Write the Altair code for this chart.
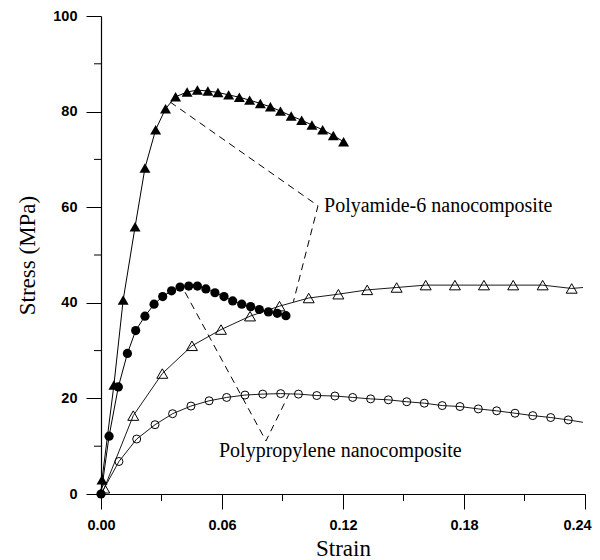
import altair as alt
import pandas as pd

# ---------------- data ----------------
# filled triangles
ft_x = [0.0005, 0.0064, 0.0110, 0.0169, 0.0218, 0.0271, 0.0320, 0.0370, 0.0427, 0.0478,
        0.0530, 0.0580, 0.0633, 0.0686, 0.0737, 0.0790, 0.0840, 0.0890, 0.0943, 0.0995,
        0.1046, 0.1099, 0.1152, 0.1203]
ft_y = [3.0, 22.8, 40.6, 55.9, 68.2, 76.2, 80.6, 83.1, 84.1, 84.5,
        84.3, 84.0, 83.5, 83.0, 82.4, 81.7, 81.0, 80.1, 79.1, 78.2,
        77.2, 76.2, 75.0, 73.7]

# filled circles
fc_x = [0.0, 0.0040, 0.0086, 0.0131, 0.0172, 0.0218, 0.0263, 0.0306, 0.0350, 0.0392,
        0.0435, 0.0478, 0.0520, 0.0565, 0.0610, 0.0653, 0.0698, 0.0742, 0.0785, 0.0830,
        0.0874, 0.0917]
fc_y = [0.0, 12.1, 22.4, 29.4, 34.2, 37.2, 39.7, 41.3, 42.5, 43.3,
        43.5, 43.5, 42.9, 42.1, 41.3, 40.4, 39.7, 39.2, 38.6, 38.1,
        37.8, 37.3]

# open triangles (markers) and their continuous curve end points
ot_x = [0.0016, 0.0160, 0.0304, 0.0451, 0.0595, 0.0739, 0.0885, 0.1030, 0.1177, 0.1320,
        0.1466, 0.1610, 0.1755, 0.1899, 0.2044, 0.2190, 0.2334]
ot_y = [1.2, 16.4, 25.2, 31.0, 34.4, 37.2, 39.3, 41.0, 41.8, 42.7,
        43.2, 43.7, 43.7, 43.7, 43.7, 43.7, 43.0]
ot_start = (0.0, 0.0)
ot_end = (0.239, 43.2)

# open circles
oc_x = [0.0089, 0.0177, 0.0268, 0.0355, 0.0446, 0.0536, 0.0623, 0.0714, 0.0802, 0.0891,
        0.0979, 0.1070, 0.1160, 0.1248, 0.1337, 0.1425, 0.1516, 0.1603, 0.1692, 0.1780,
        0.1871, 0.1962, 0.2053, 0.2141, 0.2230, 0.2317]
oc_y = [6.8, 11.5, 14.5, 16.8, 18.4, 19.5, 20.2, 20.7, 20.9, 21.0,
        20.9, 20.6, 20.5, 20.2, 19.9, 19.7, 19.3, 19.0, 18.5, 18.3,
        17.8, 17.4, 16.9, 16.4, 16.0, 15.5]
oc_start = (0.0, 0.0)
oc_end = (0.239, 15.0)

# annotation leader lines (dashed)
pa_lead_x = [0.0343, 0.1076, 0.0954]
pa_lead_y = [82.0, 60.3, 40.2]
pp_lead_x = [0.0417, 0.0818, 0.0932]
pp_lead_y = [42.2, 11.1, 20.9]

labels = ["Polyamide-6 nanocomposite", "Polypropylene nanocomposite"]
label_x = [0.1106, 0.0585]
label_y = [58.9, 7.7]

x_ticks = [0.0, 0.06, 0.12, 0.18, 0.24]
x_minor = [0.03, 0.09, 0.15, 0.21]
y_ticks = [0, 20, 40, 60, 80, 100]
y_minor = [10, 30, 50, 70, 90]

# ---------------- frames ----------------
ft = pd.DataFrame({"x": ft_x, "y": ft_y})
ft_line = pd.DataFrame({"x": [0.0] + ft_x, "y": [0.0] + ft_y})
fc = pd.DataFrame({"x": fc_x, "y": fc_y})
ot = pd.DataFrame({"x": ot_x, "y": ot_y})
ot_line = pd.DataFrame({"x": [ot_start[0]] + ot_x + [ot_end[0]],
                        "y": [ot_start[1]] + ot_y + [ot_end[1]]})
oc = pd.DataFrame({"x": oc_x, "y": oc_y})
oc_line = pd.DataFrame({"x": [oc_start[0]] + oc_x + [oc_end[0]],
                        "y": [oc_start[1]] + oc_y + [oc_end[1]]})
lead = pd.DataFrame({
    "x": pa_lead_x + pp_lead_x,
    "y": pa_lead_y + pp_lead_y,
    "g": ["pa"] * 3 + ["pp"] * 3,
    "o": [0, 1, 2, 0, 1, 2],
})
lab = pd.DataFrame({"x": label_x, "y": label_y, "t": labels})
xm = pd.DataFrame({"x": x_minor})
ym = pd.DataFrame({"y": y_minor})

SERIF = "Liberation Serif"
SANS = "Liberation Sans"

xscale = alt.Scale(domain=[0, 0.24], nice=False, zero=False)
yscale = alt.Scale(domain=[0, 100], nice=False)

X = alt.X("x:Q", scale=xscale,
          axis=alt.Axis(values=x_ticks, format=".2f", title="Strain",
                        tickSize=15, labelPadding=9, labelFlush=False,
                        labelOffset={"condition": {"test": "datum.value >= 0.239", "value": -8},
                                     "value": 0},
                        titleFont=SERIF, titleFontSize=23, titleFontWeight="normal",
                        titleBaseline="alphabetic", titleY=61))
Y = alt.Y("y:Q", scale=yscale,
          axis=alt.Axis(values=y_ticks, format="d", title="Stress (MPa)",
                        tickSize=15, labelPadding=9, labelFlush=False,
                        titleFont=SERIF, titleFontSize=23, titleFontWeight="normal",
                        titleAngle=-90, titleBaseline="alphabetic",
                        titleX=-67, titleY=239, titleAlign="center"))
Xp = alt.X("x:Q", scale=xscale)
Yp = alt.Y("y:Q", scale=yscale)

line_ft = alt.Chart(ft_line).mark_line(color="black", strokeWidth=1).encode(x=X, y=Y)
line_fc = alt.Chart(fc).mark_line(color="black", strokeWidth=1).encode(x=Xp, y=Yp)
line_ot = alt.Chart(ot_line).mark_line(color="black", strokeWidth=0.9).encode(x=Xp, y=Yp)
line_oc = alt.Chart(oc_line).mark_line(color="black", strokeWidth=0.9).encode(x=Xp, y=Yp)

pts_ft = alt.Chart(ft).mark_point(shape="triangle-up", filled=True, size=120,
                                  color="black", opacity=1).encode(x=Xp, y=Yp)
pts_fc = alt.Chart(fc).mark_point(shape="circle", filled=True, size=85,
                                  color="black", opacity=1).encode(x=Xp, y=Yp)
pts_ot = alt.Chart(ot).mark_point(shape="triangle-up", filled=False, size=120,
                                  color="black", strokeWidth=1, opacity=1).encode(x=Xp, y=Yp)
pts_oc = alt.Chart(oc).mark_point(shape="circle", filled=False, size=64,
                                  color="black", strokeWidth=1, opacity=1).encode(x=Xp, y=Yp)

leaders = alt.Chart(lead).mark_line(color="black", strokeWidth=1, strokeDash=[7, 5]).encode(
    x=Xp, y=Yp, detail="g:N", order="o:Q")

texts = alt.Chart(lab).mark_text(align="left", baseline="alphabetic", font=SERIF,
                                 fontSize=20, color="black").encode(x=Xp, y=Yp, text="t:N")

xminor = alt.Chart(xm).mark_rule(color="black", strokeWidth=1).encode(
    x=Xp, y=alt.value(478), y2=alt.value(485))
yminor = alt.Chart(ym).mark_rule(color="black", strokeWidth=1).encode(
    y=Yp, x=alt.value(-7), x2=alt.value(0))

chart = alt.layer(
    line_ft, line_fc, line_ot, line_oc, leaders,
    pts_ot, pts_oc, pts_fc, pts_ft, texts, xminor, yminor
).properties(
    width=484, height=478,
    autosize=alt.AutoSizeParams(type="none"),
    padding={"left": 93, "top": 8, "right": 7, "bottom": 66},
).configure_view(stroke=None).configure_axis(
    grid=False, domainColor="black", tickColor="black", domainWidth=1.2, tickWidth=1,
    labelFont=SANS, labelFontWeight="bold", labelFontSize=14.5, labelColor="black",
    titleColor="black",
)

chart.save("out.html", embed_options={"renderer": "svg", "actions": False})
